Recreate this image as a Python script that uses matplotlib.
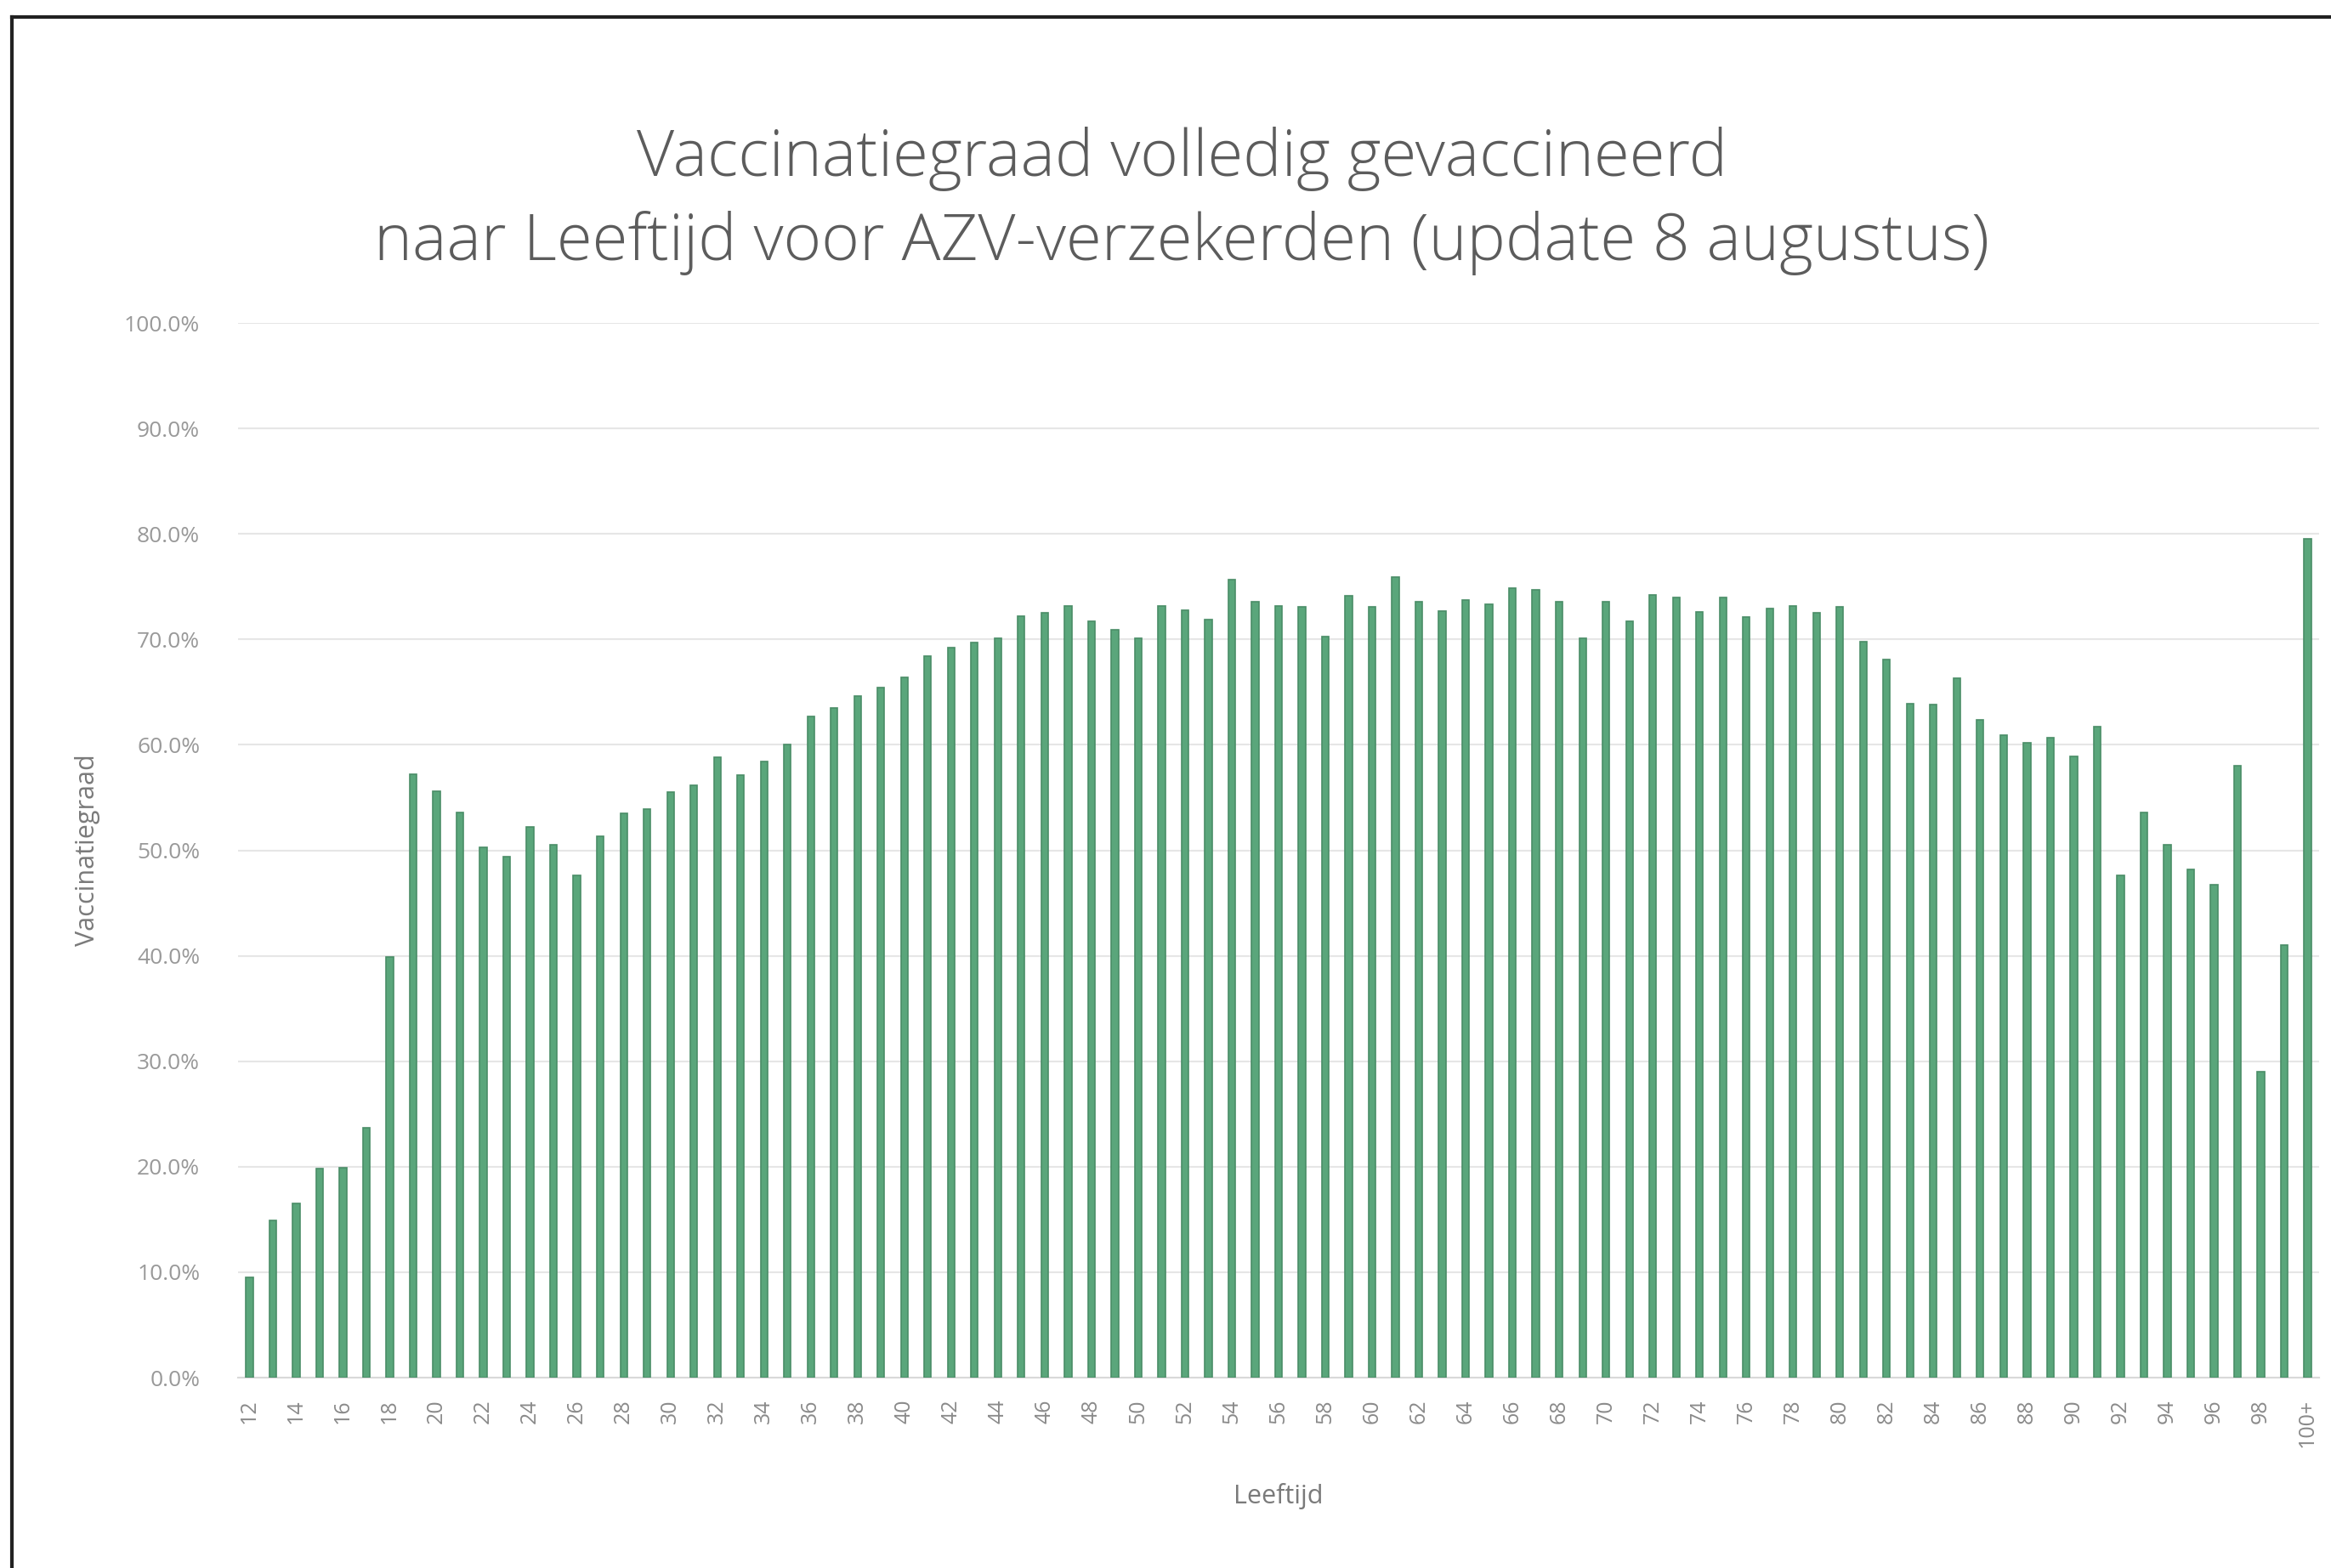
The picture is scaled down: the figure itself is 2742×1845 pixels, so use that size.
import matplotlib
matplotlib.use("Agg")
import matplotlib.pyplot as plt
from matplotlib.ticker import PercentFormatter

# leeftijden 12 t/m 99 en 100+
ages = [str(a) for a in range(12, 100)] + ["100+"]

# vaccinatiegraad (fractie)
vacc_12_35 = [0.095, 0.149, 0.165, 0.198, 0.199, 0.237, 0.399, 0.572, 0.556, 0.536,
              0.503, 0.494, 0.522, 0.505, 0.476, 0.513, 0.535, 0.539, 0.555, 0.562,
              0.588, 0.571, 0.584, 0.600]
vacc_36_59 = [0.627, 0.635, 0.646, 0.654, 0.664, 0.684, 0.692, 0.697, 0.701, 0.722,
              0.725, 0.732, 0.717, 0.709, 0.701, 0.732, 0.728, 0.719, 0.757, 0.736,
              0.732, 0.731, 0.703, 0.741]
vacc_60_83 = [0.731, 0.759, 0.736, 0.727, 0.737, 0.733, 0.749, 0.747, 0.736, 0.701,
              0.736, 0.717, 0.742, 0.740, 0.726, 0.740, 0.721, 0.729, 0.732, 0.725,
              0.731, 0.698, 0.681, 0.639]
vacc_84_100 = [0.638, 0.663, 0.624, 0.609, 0.602, 0.607, 0.589, 0.617, 0.476, 0.536,
               0.505, 0.482, 0.467, 0.580, 0.290, 0.410, 0.795]
vacc = vacc_12_35 + vacc_36_59 + vacc_60_83 + vacc_84_100

title = "Vaccinatiegraad volledig gevaccineerd\nnaar Leeftijd voor AZV-verzekerden (update 8 augustus)"

font = "Open Sans"
grey = "#7a7a7a"

fig = plt.figure(figsize=(27.42, 18.45), dpi=100)
ax = fig.add_axes([0.102, 0.1214, 0.893, 0.6726])

x = list(range(len(ages)))
ax.bar(x, vacc, width=0.3, color="#5aa67b", edgecolor="#4a8d67", linewidth=1.2, zorder=3)

ax.set_xlim(-0.5, len(ages) - 0.5)
ax.set_ylim(0, 1)
ax.set_yticks([i / 10 for i in range(11)])
ax.yaxis.set_major_formatter(PercentFormatter(xmax=1, decimals=1))
ax.grid(axis="y", color="#e6e6e6", linewidth=1.5, zorder=0)

ax.set_xticks(x[::2])
ax.set_xticklabels(ages[::2], rotation=90, fontsize=18, color="#8a8a8a", family=font)
for lab in ax.get_yticklabels():
    lab.set_fontsize(19)
    lab.set_color("#999999")
    lab.set_family(font)
ax.tick_params(axis="both", length=0)
ax.tick_params(axis="y", pad=32)
ax.tick_params(axis="x", pad=18)

for s in ["top", "right", "left"]:
    ax.spines[s].set_visible(False)
ax.spines["bottom"].set_color("#d9d9d9")
ax.spines["bottom"].set_linewidth(1.5)

ax.set_ylabel("Vaccinatiegraad", fontsize=22, color=grey, family=font, labelpad=20)
ax.set_xlabel("Leeftijd", fontsize=22, color=grey, family=font, labelpad=30)

fig.text(0.507, 0.872, title, ha="center", va="center", fontsize=55, color="#5c5c5c",
         family=font, fontweight="light", linespacing=1.4)

# rand van de schermafdruk
fig.add_artist(plt.Line2D([0.005, 0.005], [0.0, 0.989], color="#222222", linewidth=3,
                          transform=fig.transFigure))
fig.add_artist(plt.Line2D([0.005, 1.0], [0.989, 0.989], color="#222222", linewidth=3,
                          transform=fig.transFigure))

fig.savefig("out.png", dpi=100, facecolor="white")
